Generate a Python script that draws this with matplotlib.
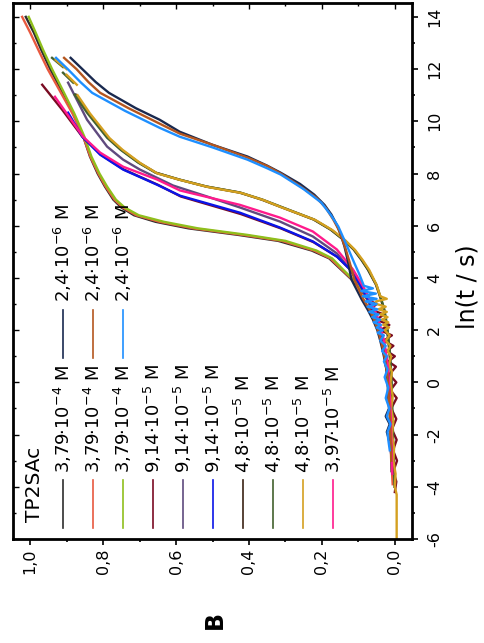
import numpy as np
import matplotlib.pyplot as plt
from matplotlib.ticker import MultipleLocator

plt.rcParams['font.family'] = ['DejaVu Sans']
plt.rcParams['axes.unicode_minus'] = False
nan = np.nan

# ln(t/s) and B for every run (TP2SAc)
lnt_379_a = [14.0, 13.4, 12.75, 12.0, 11.2, 10.3, 9.4, 8.65, 8.0, 7.5, 7.0, 6.7, 6.4, 6.15, 5.9, 5.65, 5.42, 5.05, 4.75, 4.25,
             3.8, 3.45, 3.2, 2.9, 2.6, 2.3, 2.0, 1.6, 1.2, 0.8, 0.4, 0.0, -0.5, -1.0, -1.6, -2.2, -2.8, -3.4]
B_379_a = [1.012, 0.99, 0.97, 0.945, 0.915, 0.882, 0.854, 0.836, 0.815, 0.795, 0.772, 0.75, 0.715, 0.656, 0.566, 0.43, 0.32, 0.228, 0.18, 0.142,
           0.108, 0.088, 0.077, 0.066, 0.057, 0.05, 0.043, 0.036, 0.03, 0.026, 0.022, 0.019, 0.016, 0.014, 0.013, 0.011, 0.01, 0.009]

lnt_379_b = [14.0, 13.4, 12.75, 12.0, 11.2, 10.3, 9.4, 8.65, 8.0, 7.5, 7.0, 6.7, 6.4, 6.15, 5.9, 5.65, 5.42, 5.05, 4.75, 4.25,
             3.8, 3.45, 3.2, 2.9, 2.6, 2.3, 2.0, 1.6, 1.2, 0.8, 0.4, 0.0, -0.5, -1.0, -1.6, -2.2, -2.8, -3.4, -3.9]
B_379_b = [1.022, 1.0, 0.978, 0.952, 0.92, 0.884, 0.854, 0.835, 0.813, 0.793, 0.769, 0.746, 0.709, 0.645, 0.553, 0.418, 0.31, 0.222, 0.177, 0.14,
           0.106, 0.087, 0.076, 0.065, 0.056, 0.049, 0.042, 0.035, 0.03, 0.025, 0.021, 0.018, 0.015, 0.013, 0.012, 0.01, 0.009, 0.008, 0.006]

lnt_379_c = [14.0, 13.4, 12.75, 12.0, 11.2, 10.3, 9.4, 8.65, 8.0, 7.5, 7.0, 6.7, 6.4, 6.15, 5.9, 5.65, 5.42, 5.05, 4.75, 4.25,
             3.8, 3.45, 3.2, 2.9, 2.6, 2.3, 2.0, 1.6, 1.2, 0.8, 0.4, 0.0, -0.5, -1.0, -1.6, -2.2, -2.8]
B_379_c = [1.004, 0.985, 0.965, 0.94, 0.911, 0.879, 0.851, 0.832, 0.81, 0.789, 0.765, 0.741, 0.702, 0.633, 0.54, 0.405, 0.3, 0.215, 0.172, 0.137,
           0.104, 0.085, 0.075, 0.064, 0.055, 0.048, 0.041, 0.034, 0.029, 0.024, 0.021, 0.018, 0.015, 0.013, 0.011, 0.01, 0.009]

lnt_914_a = [11.4, 10.44, 9.41, 8.72, 8.15, 7.57, 7.12, 6.45, 5.9, 5.37, 4.8, 4.3, 3.72, 3.15,
             3.0, 2.8, 2.6, 2.4, 2.2, 2.0, 1.8, 1.6, 1.4, 1.2, 1.0, 0.8, 0.6, 0.3, 0.0, -0.3, -0.6, -1.0, -1.4, -1.8,
             -2.2, -2.6, -3.0, -3.4, -3.8, -4.2]
B_914_a = [0.967, 0.912, 0.857, 0.806, 0.743, 0.65, 0.587, 0.423, 0.313, 0.223, 0.157, 0.121, 0.094, 0.072,
           0.05, 0.068, 0.03, 0.05, 0.015, 0.04, 0.008, 0.03, 0.004, 0.022, 0.0, 0.018, -0.003, 0.015, -0.004, 0.012, -0.005, 0.01, -0.004, 0.008,
           -0.005, 0.005, -0.006, 0.004, -0.004, 0.0]

lnt_914_b = [11.48, 10.06, 9.03, 8.53, 8.15, 7.54, 7.12, 6.7, 6.16, 5.59, 4.94, 4.25, 3.75, 3.18, 2.8, 2.4, 2.0, 1.6, 1.2, 0.8,
             0.4, 0.0, -0.5, -1.0, -1.5, -2.0, -2.5, -3.0, -3.5]
B_914_b = [0.896, 0.844, 0.789, 0.745, 0.699, 0.608, 0.515, 0.425, 0.315, 0.225, 0.159, 0.118, 0.096, 0.074, 0.06, 0.048, 0.039, 0.031, 0.026, 0.022,
           0.019, 0.016, 0.014, 0.013, 0.011, 0.01, 0.009, 0.008, 0.007]

lnt_914_c = [10.33, 9.41, 8.72, 8.15, 7.57, 7.15, 6.5, 5.93, 5.4, 4.82, 4.33, 3.75, 3.18, 2.8, 2.4, 2.0, 1.6, 1.2, 0.8, 0.4,
             0.0, -0.5, -1.0, -1.5, -2.0, -2.5, -3.0]
B_914_c = [0.896, 0.857, 0.808, 0.745, 0.652, 0.589, 0.425, 0.315, 0.225, 0.159, 0.123, 0.096, 0.074, 0.06, 0.047, 0.038, 0.031, 0.026, 0.022, 0.019,
           0.016, 0.014, 0.012, 0.011, 0.01, 0.012, 0.008]

lnt_48_a = [11.02, 10.33, 9.37, 8.91, 8.42, 8.03, 7.77, 7.5, 7.27, 7.0, 6.73, 6.24, 5.85, 5.45, 5.09, 4.7, 4.32, 3.75, 3.18, 2.8,
            2.4, 2.0, 1.6, 1.2, 0.8, 0.4, 0.0, -0.5, -1.0, -1.5, -2.0, -2.5, -3.0, -3.5]
B_48_a = [0.875, 0.841, 0.786, 0.75, 0.702, 0.655, 0.592, 0.517, 0.426, 0.365, 0.315, 0.223, 0.176, 0.14, 0.113, 0.092, 0.074, 0.052, 0.038, 0.03,
          0.025, 0.021, 0.018, 0.015, 0.013, 0.011, 0.01, 0.009, 0.008, 0.007, 0.006, 0.005, 0.004, 0.003]

lnt_48_b = [12.43, 12.08, nan, 11.86, 11.48, nan,
            11.02, 10.33, 9.37, 8.91, 8.42, 8.03, 7.77, 7.5, 7.27, 7.0, 6.73, 6.24, 5.85, 5.45, 5.09, 4.7, 4.32, 3.75, 3.18, 2.8,
            2.4, 2.0, 1.6, 1.2, 0.8, 0.4, 0.0, -0.5, -1.0, -1.5, -2.0, -2.5, -3.0, -3.5, -4.0]
B_48_b = [0.94, 0.91, nan, 0.91, 0.882, nan,
          0.878, 0.844, 0.789, 0.752, 0.704, 0.656, 0.592, 0.516, 0.424, 0.363, 0.313, 0.222, 0.175, 0.139, 0.112, 0.091, 0.073, 0.051, 0.037, 0.029,
          0.024, 0.02, 0.017, 0.014, 0.012, 0.01, 0.009, 0.008, 0.007, 0.006, 0.005, 0.004, 0.003, 0.002, 0.001]

lnt_48_c = [12.35, 12.0, nan, 11.78, 11.4, nan,
            11.0, 10.3, 9.35, 8.9, 8.4, 8.0, 7.75, 7.48, 7.25, 6.98, 6.7, 6.22, 5.83, 5.43, 5.07, 4.68, 4.3, 3.73, 3.3,
            3.2, 3.1, 3.0, 2.9, 2.8, 2.7, 2.6, 2.5, 2.4, 2.3, 2.2, 2.1, 2.0, 1.8, 1.6, 1.4, 1.2, 1.0, 0.7, 0.4,
            0.0, -0.5, -1.0, -1.5, -2.0, -2.5, -3.0, -3.5, -4.0, -4.3, -5.0, -6.0]
B_48_c = [0.93, 0.9, nan, 0.9, 0.872, nan,
          0.87, 0.836, 0.782, 0.746, 0.698, 0.651, 0.588, 0.512, 0.42, 0.36, 0.31, 0.218, 0.171, 0.135, 0.109, 0.088, 0.07, 0.05, 0.04,
          0.022, 0.052, 0.05, 0.025, 0.045, 0.022, 0.04, 0.02, 0.036, 0.018, 0.032, 0.016, 0.028, 0.014, 0.025, 0.012, 0.02, 0.01, 0.016, 0.008,
          0.012, 0.006, 0.01, 0.004, 0.008, 0.002, 0.004, -0.002, 0.0, -0.005, -0.005, -0.005]

lnt_397 = [10.94, 9.41, 8.8, 8.26, 7.77, 7.35, 6.8, 6.31, 5.78, 5.09, 4.33, 3.75, 3.18, 2.8, 2.4, 2.0, 1.6, 1.2, 0.8, 0.4,
           0.0, -0.5, -1.0, -1.5, -2.0, -2.5, -3.0, -3.5]
B_397 = [0.932, 0.855, 0.808, 0.745, 0.652, 0.589, 0.425, 0.315, 0.225, 0.159, 0.115, 0.09, 0.068, 0.056, 0.045, 0.037, 0.03, 0.025, 0.021, 0.018,
         0.016, 0.014, 0.012, 0.011, 0.01, 0.009, 0.008, 0.007]

lnt_24_a = [12.43, 12.0, 11.5, 11.09, 10.5, 10.06, 9.6, 9.1, 8.65, 8.3, 8.03, 7.6, 7.19, 6.8, 6.43, 6.0, 5.6, 5.2, 4.6, 3.94,
            3.18, 2.8, 2.4, 2.0, 1.6, 1.2, 0.8, 0.4, 0.0, -0.5, -1.0, -1.3, -1.6, -1.9, -2.2]
B_24_a = [0.889, 0.857, 0.82, 0.784, 0.71, 0.645, 0.59, 0.5, 0.404, 0.35, 0.313, 0.26, 0.221, 0.193, 0.174, 0.158, 0.147, 0.138, 0.128, 0.119,
          0.091, 0.075, 0.06, 0.048, 0.04, 0.033, 0.027, 0.022, 0.02, 0.018, 0.016, 0.025, 0.014, 0.022, 0.016]

lnt_24_b = [12.43, 12.0, 11.5, 11.09, 10.5, 9.91, 9.53, 9.1, 8.61, 8.3, 8.0, 7.5, 7.08, 6.7, 6.24, 5.8, 5.16, 4.6, 3.94, 3.18,
            2.8, 2.4, 2.0, 1.6, 1.2, 0.8, 0.4, 0.0, -0.5, -1.0, -1.5, -2.0, -2.5, -3.0]
B_24_b = [0.907, 0.873, 0.84, 0.808, 0.73, 0.645, 0.59, 0.5, 0.404, 0.352, 0.313, 0.258, 0.216, 0.19, 0.169, 0.152, 0.136, 0.124, 0.111, 0.086,
          0.07, 0.057, 0.046, 0.038, 0.031, 0.026, 0.022, 0.019, 0.017, 0.015, 0.013, 0.012, 0.011, 0.01]

lnt_24_c = [12.43, 12.0, 11.5, 11.09, 10.4, 9.75, 9.41, 9.0, 8.53, 8.2, 7.96, 7.4, 6.89, 6.4, 5.97, 5.5, 5.09, 4.6, 4.13, 3.7,
            3.6, 3.5, 3.4, 3.3, 3.2, 3.1, 3.0, 2.9, 2.8, 2.7, 2.6, 2.5, 2.4, 2.3, 2.2, 2.1, 2.0, 1.9, 1.8, 1.6,
            1.4, 1.2, 1.0, 0.8, 0.5, 0.2, -0.2, -0.6, -1.0, -1.3, -1.6, -1.9, -2.2, -2.6]
B_24_c = [0.929, 0.897, 0.862, 0.83, 0.74, 0.645, 0.59, 0.5, 0.404, 0.35, 0.313, 0.25, 0.202, 0.175, 0.155, 0.14, 0.127, 0.112, 0.097, 0.085,
          0.06, 0.092, 0.052, 0.088, 0.05, 0.08, 0.05, 0.075, 0.048, 0.07, 0.045, 0.062, 0.04, 0.058, 0.038, 0.05, 0.033, 0.047, 0.03, 0.04,
          0.025, 0.035, 0.022, 0.03, 0.02, 0.028, 0.018, 0.025, 0.015, 0.022, 0.012, 0.02, 0.018, 0.014]

labels = ['3,79·10$^{-4}$ M', '3,79·10$^{-4}$ M', '3,79·10$^{-4}$ M',
          '9,14·10$^{-5}$ M', '9,14·10$^{-5}$ M', '9,14·10$^{-5}$ M',
          '4,8·10$^{-5}$ M', '4,8·10$^{-5}$ M', '4,8·10$^{-5}$ M',
          '3,97·10$^{-5}$ M',
          '2,4·10$^{-6}$ M', '2,4·10$^{-6}$ M', '2,4·10$^{-6}$ M']
colors = ['#2d2d2d', '#e8593f', '#8fbf1c', '#7a0b22', '#5f4a7e', '#0a14e8', '#3b2314',
          '#42612e', '#d4a020', '#ff1a8c', '#19294f', '#b4561f', '#1e8fff']
runs = [(lnt_379_a, B_379_a), (lnt_379_b, B_379_b), (lnt_379_c, B_379_c),
        (lnt_914_a, B_914_a), (lnt_914_b, B_914_b), (lnt_914_c, B_914_c),
        (lnt_48_a, B_48_a), (lnt_48_b, B_48_b), (lnt_48_c, B_48_c),
        (lnt_397, B_397),
        (lnt_24_a, B_24_a), (lnt_24_b, B_24_b), (lnt_24_c, B_24_c)]

x_ticks = [0.0, 0.2, 0.4, 0.6, 0.8, 1.0]
x_ticklabels = ['0,0', '0,2', '0,4', '0,6', '0,8', '1,0']
y_ticks = [-6, -4, -2, 0, 2, 4, 6, 8, 10, 12, 14]

fig = plt.figure(figsize=(4.84, 6.43), dpi=100)
ax = fig.add_axes([0.0269, 0.1617, 0.8243, 0.8336])

# figure is drawn turned by 90 degrees: B runs right to left, ln t bottom to top
for (t, b), c in zip(runs, colors):
    ax.plot(b, t, color=c, lw=1.7, solid_joinstyle='round')

ax.set_xlim(1.047, -0.047)
ax.set_ylim(-6, 14.53)
ax.set_xticks(x_ticks)
ax.set_xticklabels(x_ticklabels)
ax.set_yticks(y_ticks)
ax.set_yticklabels([str(v) for v in y_ticks])
ax.xaxis.set_minor_locator(MultipleLocator(0.1))
ax.yaxis.set_minor_locator(MultipleLocator(1))
ax.yaxis.tick_right()
ax.tick_params(which='both', direction='out', width=1.2)
ax.tick_params(which='major', length=4)
ax.tick_params(which='minor', length=2.5)
ax.tick_params(axis='x', which='major', pad=3, labelsize=11.5, labelrotation=90)
ax.tick_params(axis='y', which='major', pad=7, labelsize=11.5, labelrotation=90)
for lab in ax.get_yticklabels():
    lab.set_va('center')
for s in ax.spines.values():
    s.set_linewidth(2.0)

# mirrored ticks on top and left, pointing inward
top = ax.secondary_xaxis('top')
top.set_xticks(x_ticks)
top.xaxis.set_minor_locator(MultipleLocator(0.1))
top.tick_params(which='both', direction='in', labeltop=False, width=1.0)
top.tick_params(which='major', length=4)
top.tick_params(which='minor', length=2.5)
left = ax.secondary_yaxis('left')
left.set_yticks(y_ticks)
left.yaxis.set_minor_locator(MultipleLocator(1))
left.tick_params(which='both', direction='in', labelleft=False, width=1.0)
left.tick_params(which='major', length=4)
left.tick_params(which='minor', length=2.5)

ax.set_xlabel('B', rotation=90, fontsize=17, fontweight='bold', va='center')
ax.xaxis.set_label_coords(0.506, -0.152)
ax.set_ylabel('ln(t / s)', rotation=90, fontsize=17, va='center')
ax.yaxis.set_label_coords(1.138, 0.47)

# legend, turned like the rest of the chart
ax.text(0.053, 0.032, 'TP2SAc', rotation=90, rotation_mode='anchor', ha='left', va='center',
        fontsize=14.5, transform=ax.transAxes)
for i, c in enumerate(colors):
    if i < 10:
        lx = 0.126 + 0.075 * i
        y0, y1, ty = 0.0205, 0.110, 0.123
    else:
        lx = 0.126 + 0.075 * (i - 10)
        y0, y1, ty = 0.338, 0.427, 0.443
    ax.plot([lx, lx], [y0, y1], color=c, lw=1.2, transform=ax.transAxes)
    ax.text(lx, ty, labels[i], rotation=90, rotation_mode='anchor', ha='left', va='center',
            fontsize=13, transform=ax.transAxes)

fig.savefig('out.png', dpi=100)
